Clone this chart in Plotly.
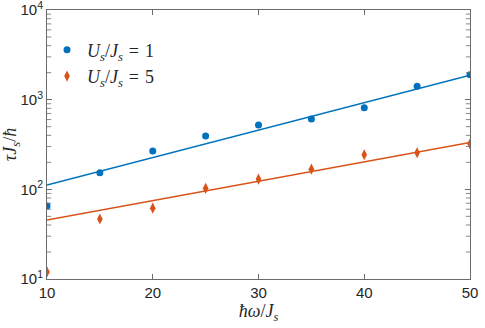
import plotly.graph_objects as go

# hbar*omega/J_s values
omega = [10, 15, 20, 25, 30, 35, 40, 45, 50]

# tau*J_s/hbar for U_s/J_s = 1 and 5
tau_u1 = [65, 153, 267, 393, 521, 608, 812, 1407, 1895]
tau_u5 = [12, 46.7, 61.7, 102.6, 130, 168, 243, 256, 322]

# exponential fit lines (end points)
fit_x = [10, 50]
fit_u1 = [112, 1870]
fit_u5 = [45.5, 334]

x_ticks = [10, 20, 30, 40, 50]
y_major = [10, 100, 1000, 10000]
y_major_text = ["10<sup>1</sup>", "10<sup>2</sup>", "10<sup>3</sup>", "10<sup>4</sup>"]
y_minor = [v * 10 ** e for e in (1, 2, 3) for v in range(2, 10)]

blue = "#0072BD"
orange = "#D95319"
serif = "Liberation Serif"
sans = "Liberation Sans"
axcol = "#6b6b6b"

fig = go.Figure()

fig.add_trace(go.Scatter(
    x=omega, y=tau_u1, mode="markers",
    marker=dict(symbol="circle", size=7, color=blue),
    name="<i>U</i><sub><i>s</i></sub>/<i>J</i><sub><i>s</i></sub>\u2004=\u20041",
))
fig.add_trace(go.Scatter(
    x=omega, y=tau_u5, mode="markers",
    marker=dict(symbol="diamond-tall", size=8, color=orange),
    name="<i>U</i><sub><i>s</i></sub>/<i>J</i><sub><i>s</i></sub>\u2004=\u20045",
))
fig.add_trace(go.Scatter(
    x=fit_x, y=fit_u1, mode="lines",
    line=dict(color=blue, width=1.5), showlegend=False,
))
fig.add_trace(go.Scatter(
    x=fit_x, y=fit_u5, mode="lines",
    line=dict(color=orange, width=1.5), showlegend=False,
))

# minor log ticks on both y sides (half of each dash is clipped by the plot area)
fig.add_trace(go.Scatter(
    x=[fit_x[0]] * len(y_minor) + [fit_x[1]] * len(y_minor),
    y=y_minor + y_minor, mode="markers", cliponaxis=True,
    marker=dict(symbol="line-ew-open", size=6, color=axcol,
                line=dict(color=axcol, width=0.8)),
    showlegend=False, hoverinfo="skip",
))

axis_style = dict(
    showline=True, linecolor=axcol, linewidth=1, mirror="ticks",
    ticks="inside", tickcolor=axcol, ticklen=5,
    showgrid=False, zeroline=False, automargin=False,
    ticklabeloverflow="allow",
    tickfont=dict(family=sans, size=15, color="#262626"),
)

fig.update_layout(
    xaxis=dict(
        range=[10, 50], tickvals=x_ticks,
        title=dict(text="<i>ħω</i>/<i>J</i><sub><i>s</i></sub>",
                   font=dict(family=serif, size=18, color="#262626"), standoff=2),
        **axis_style,
    ),
    yaxis=dict(
        type="log", range=[1, 4], tickvals=y_major, ticktext=y_major_text,
        title=dict(text="<i>τJ</i><sub><i>s</i></sub>/<i>ħ</i>",
                   font=dict(family=serif, size=18, color="#262626"), standoff=4),
        **axis_style,
    ),
    width=485, height=328,
    margin=dict(l=47, r=15, t=10, b=49),
    plot_bgcolor="white", paper_bgcolor="white",
    legend=dict(x=0.0, y=0.92, xanchor="left", yanchor="top",
                bgcolor="rgba(0,0,0,0)",
                font=dict(family=serif, size=18, color="#262626"),
                itemwidth=30, tracegroupgap=0),
)

# drop the default page margin so the figure sits at the window corner
fig.write_html("out.html", config={"displayModeBar": False},
               post_script="document.body.style.margin='0';")
